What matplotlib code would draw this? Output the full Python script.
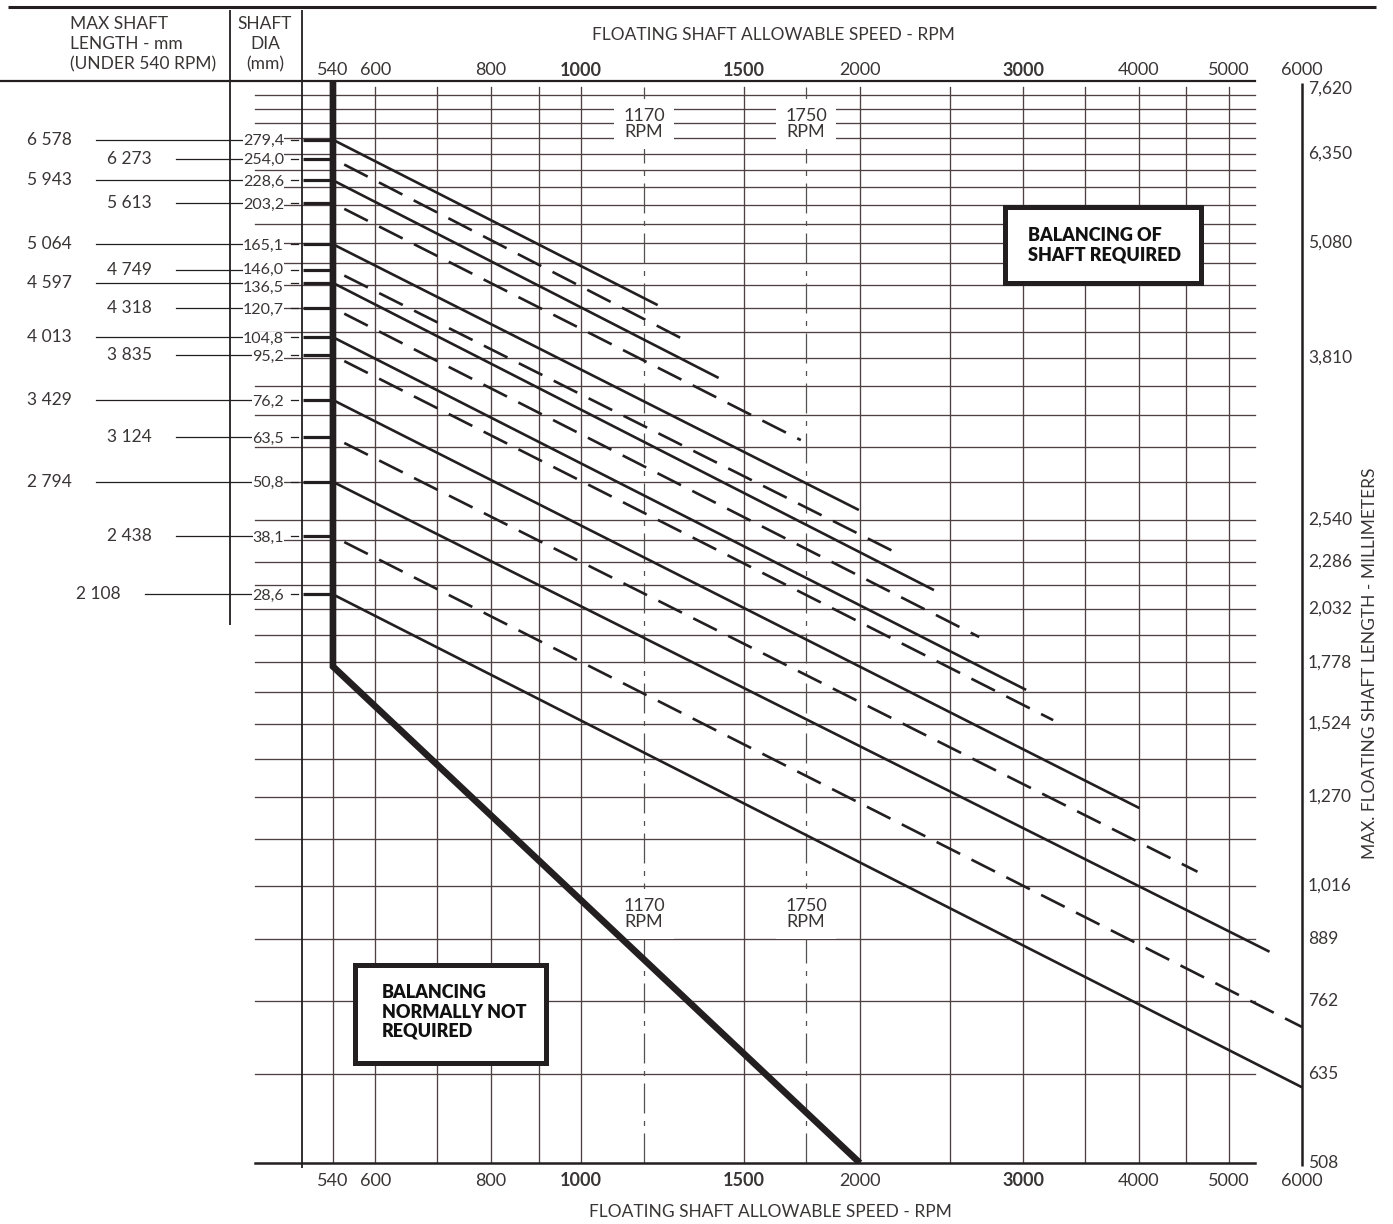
import matplotlib
matplotlib.use("Agg")
import matplotlib.pyplot as plt
import matplotlib.transforms as mtransforms
from matplotlib.patches import Rectangle

# ========================
# data
# ========================
dia_labels = ["279,4", "254,0", "228,6", "203,2", "165,1", "146,0", "136,5", "120,7",
              "104,8", "95,2", "76,2", "63,5", "50,8", "38,1", "28,6"]
len_540 = [6578, 6273, 5943, 5613, 5064, 4749, 4597, 4318,
           4013, 3835, 3429, 3124, 2794, 2438, 2108]
is_dashed = [False, True, False, True, False, True, False, True,
             False, True, False, True, False, True, False]
# where each line stops
end_rpm = [1210, 1313, 1408, 1727, 1995, 2215, 2404, 2690,
           3023, 3233, 4005, 4628, 5535, 6000, 6000]
end_len = [4349, 3955, 3624, 3102, 2604, 2326, 2131, 1895,
           1660, 1539, 1235, 1053, 862, 714, 614]

# balancing boundary
bound_rpm = [540, 540, 2000]
bound_len = [7620, 1760, 508]

# grid
grid_in = [290, 280, 270, 260, 250, 240, 230, 220, 210, 200, 190, 180, 170, 160, 150,
           140, 130, 120, 110, 100, 95, 90, 85, 80, 75, 70, 65, 60, 55, 50, 45, 40,
           35, 30, 25]
vgrid = [540, 600, 700, 800, 900, 1000, 1500, 2000, 2500, 3000, 3500, 4000, 4500, 5000]
motor_rpm = [1170, 1750]

xticks = [540, 600, 800, 1000, 1500, 2000, 3000, 4000, 5000, 6000]
xticks_bold = [1000, 1500, 3000]
yticks = [7620, 6350, 5080, 3810, 2540, 2286, 2032, 1778, 1524, 1270, 1016, 889, 762, 635, 508]

# ========================
# style
# ========================
W, H = 1393, 1224
INK = "#231f20"
GRID = "#4f4141"
TXT = "#3a3535"
FONT = "Lato"
plt.rcParams["font.family"] = [FONT, "DejaVu Sans"]

fig = plt.figure(figsize=(W / 100, H / 100), dpi=100)
ax = fig.add_axes([302 / W, 1 - 1163 / H, 1000 / W, (1163 - 81) / H])
ax.set_xscale("log")
ax.set_yscale("log")
ax.set_xlim(500, 6000)
ax.set_ylim(508, 7620)
ax.set_autoscale_on(False)
ax.set_axis_off()

# pixel coords (from top-left) and blends
px = mtransforms.Affine2D().scale(1 / W, -1 / H).translate(0, 1) + fig.transFigure
px_x = mtransforms.blended_transform_factory(px, ax.transData)   # x pixel, y data
px_y = mtransforms.blended_transform_factory(ax.transData, px)   # x data, y pixel


def pxline(xs, ys, **kw):
    kw.setdefault("color", INK)
    ax.plot(xs, ys, transform=px, clip_on=False, solid_capstyle="butt", **kw)


# ========================
# grid
# ========================
for g in grid_in:
    ax.plot([255, 1255], [g * 25.4, g * 25.4], transform=px_x, clip_on=False,
            color=GRID, lw=0.95, zorder=1)
for v in vgrid:
    ax.plot([v, v], [508, 7500], color=GRID, lw=0.95, zorder=1)
for v in motor_rpm:
    ax.plot([v, v], [508, 7500], color="#555050", lw=0.9,
            linestyle=(0, (24, 6, 4, 6)), zorder=1)

# frame
ax.plot([0, 1255], [7620, 7620], transform=px_x, clip_on=False, color=INK, lw=1.6, zorder=2)
ax.plot([255, 1255], [508, 508], transform=px_x, clip_on=False, color=INK, lw=1.8, zorder=2)
pxline([8, 1376], [7, 7], lw=2.2)
pxline([230, 230], [10, 625], lw=1.3)
pxline([302, 302], [10, 1168], lw=1.3)
pxline([1302, 1302], [83, 1166], lw=1.8)

# ========================
# shaft lines
# ========================
for L0, rpm1, L1, dsh in zip(len_540, end_rpm, end_len, is_dashed):
    ls = (10, (10, 4.8)) if dsh else "-"
    ax.plot([540, rpm1], [L0, L1], color=INK, lw=1.9, linestyle=ls,
            solid_capstyle="butt", dash_capstyle="butt", zorder=4)

ax.plot(bound_rpm, bound_len, color=INK, lw=4.8, solid_joinstyle="miter",
        solid_capstyle="butt", zorder=5)

# ========================
# left table
# ========================
# the 146,0 / 136,5 pair sits very tight, nudge them apart a little
nudge = {5: 2, 6: -3}
for i, (lab, L0, dsh) in enumerate(zip(dia_labels, len_540, is_dashed)):
    xr = 152 if dsh else 72
    if i == len(len_540) - 1:
        xr = 121
    ax.text(xr, L0, f"{L0:,}".replace(",", " "), transform=px_x, ha="right",
            va="center", fontsize=12.5, color=TXT)
    ax.plot([xr + 24, 280], [L0, L0], transform=px_x, clip_on=False,
            color=INK, lw=0.9, zorder=2)
    tr = mtransforms.offset_copy(px_x, fig=fig, y=nudge.get(i, 0), units="dots")
    ax.text(284, L0, lab, transform=tr, ha="right", va="center_baseline", fontsize=11.5,
            color=TXT, zorder=3,
            bbox=dict(facecolor="white", edgecolor="none", boxstyle="square,pad=0.0"))
    ax.plot([291, 298], [L0, L0], transform=px_x, clip_on=False, color=INK, lw=0.9, zorder=3)
    ax.plot([303, 331], [L0, L0], transform=px_x, clip_on=False, color=INK, lw=2.3,
            solid_capstyle="butt", zorder=3)

ax.text(70, 16, "MAX SHAFT\nLENGTH - mm\n(UNDER 540 RPM)", transform=px, ha="left",
        va="top", fontsize=12.5, color=TXT, linespacing=1.32)
ax.text(265, 16, "SHAFT\nDIA\n(mm)", transform=px, ha="center", va="top",
        fontsize=12.5, color=TXT, linespacing=1.32, multialignment="center")

# ========================
# axes labels
# ========================
for t in xticks:
    fw = "bold" if t in xticks_bold else "normal"
    for y in (70, 1181):
        ax.text(t, y, str(t), transform=px_y, ha="center", va="center",
                fontsize=13, color=TXT, fontweight=fw)

for t in yticks:
    va = "top" if t == yticks[0] else "center"
    ax.text(1308, t, f"{t:,}", transform=px_x, ha="left", va=va,
            fontsize=12.5, color=TXT)

ax.text(773, 35, "FLOATING SHAFT ALLOWABLE SPEED - RPM", transform=px, ha="center",
        va="center", fontsize=12.5, color=TXT)
ax.text(770, 1212, "FLOATING SHAFT ALLOWABLE SPEED - RPM", transform=px, ha="center",
        va="center", fontsize=12.5, color=TXT)
ax.text(1370, 663, "MAX. FLOATING SHAFT LENGTH - MILLIMETERS", transform=px,
        ha="center", va="center", rotation=90, fontsize=12.5, color=TXT)

# motor speed labels
for v in motor_rpm:
    for y in (124, 914):
        ax.text(v, y, f"{v}\nRPM", transform=px_y, ha="center", va="center",
                fontsize=13, color=TXT, linespacing=0.95, zorder=3,
                bbox=dict(facecolor="white", edgecolor="none", boxstyle="square,pad=0.5"))

# ========================
# region boxes
# ========================
ax.add_patch(Rectangle((1005, 207), 196, 76, transform=px, facecolor="white",
                       edgecolor=INK, lw=3.6, clip_on=False, zorder=3))
ax.text(1028, 245, "BALANCING OF\nSHAFT REQUIRED", transform=px, ha="left",
        va="center", fontsize=13, fontweight="heavy", color="#111111",
        linespacing=1.15, zorder=4)
ax.add_patch(Rectangle((355, 965), 191, 98, transform=px, facecolor="white",
                       edgecolor=INK, lw=3.6, clip_on=False, zorder=3))
ax.text(382, 1012, "BALANCING\nNORMALLY NOT\nREQUIRED", transform=px, ha="left",
        va="center", fontsize=13, fontweight="heavy", color="#111111",
        linespacing=1.15, zorder=4)

fig.savefig("out.png", dpi=100)
